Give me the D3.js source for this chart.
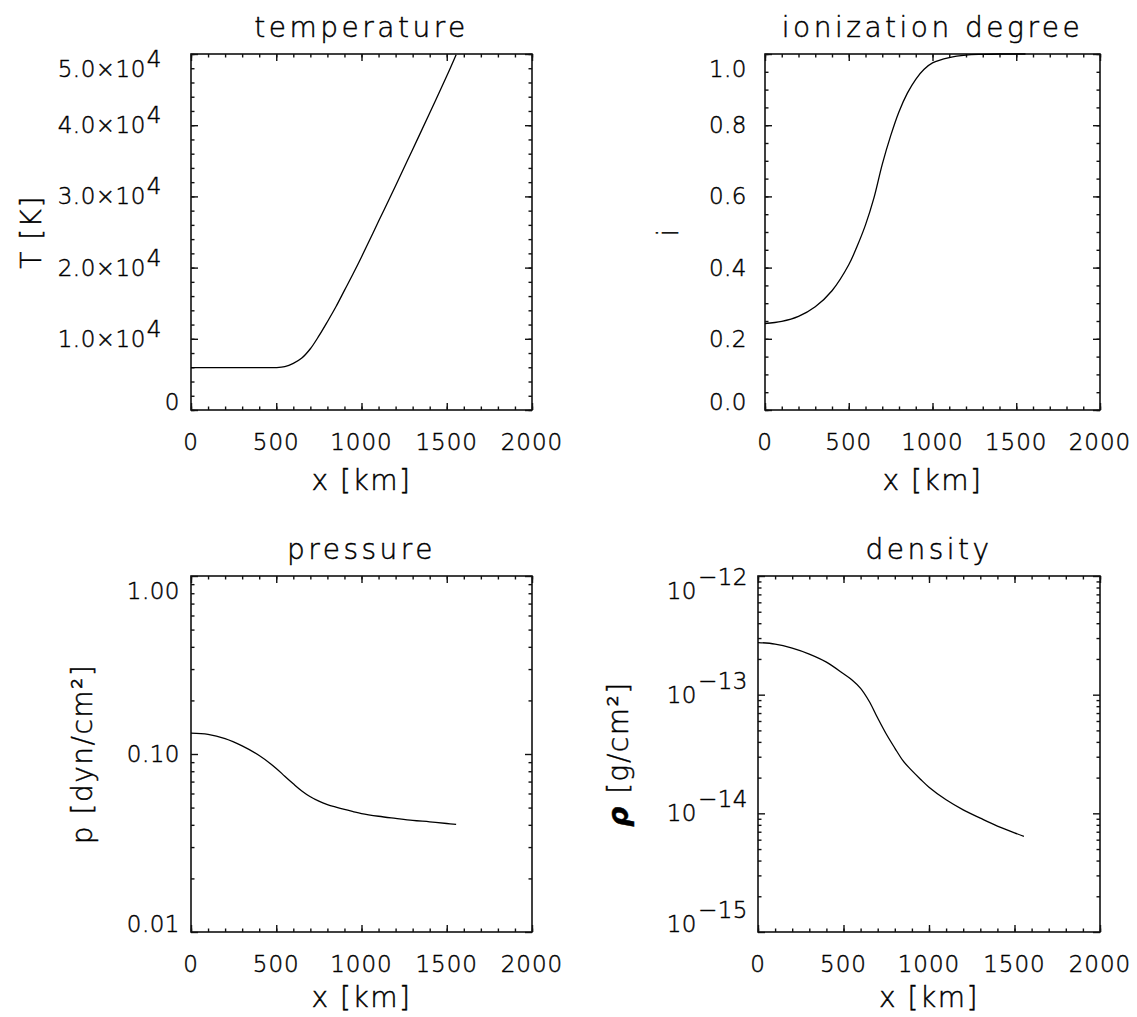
<!DOCTYPE html>
<html>
<head>
<meta charset="utf-8">
<script src="https://cdn.jsdelivr.net/npm/d3@7"></script>
<style>
  body { margin: 0; background: #fff; }
  svg { display: block; font-family: "DejaVu Sans", sans-serif; font-weight: 300; }
  text { fill: #000; stroke: #000; stroke-width: 0.45; }
</style>
</head>
<body>
<svg id="chart" width="1137" height="1017"></svg>
<script>
// Values (x in km)
const xKm = [0, 100, 200, 300, 400, 500, 550, 600, 650, 700, 750, 800, 850, 900, 950,
             1000, 1100, 1200, 1300, 1400, 1500, 1555];
const temperature = [5950, 5950, 5950, 5950, 5950, 5960, 6100, 6550, 7300, 8600, 10400,
                     12400, 14500, 16800, 19100, 21500, 26500, 31500, 36600, 41700, 46900, 49900];
const ionization = [0.243, 0.249, 0.263, 0.29, 0.335, 0.408, 0.46, 0.52, 0.595, 0.69,
                    0.77, 0.838, 0.89, 0.929, 0.957, 0.975, 0.99, 0.997, 0.999, 1.0, 1.0, 1.0];
const pressure = [0.131, 0.129, 0.122, 0.111, 0.098, 0.083, 0.075, 0.068, 0.062, 0.0575,
                  0.0543, 0.052, 0.0503, 0.0488, 0.0475, 0.0463, 0.0447, 0.0435, 0.0424,
                  0.0416, 0.0407, 0.0402];
const density = [2.75e-13, 2.67e-13, 2.47e-13, 2.2e-13, 1.88e-13, 1.5e-13, 1.33e-13,
                 1.13e-13, 8.8e-14, 6.35e-14, 4.66e-14, 3.55e-14, 2.75e-14, 2.29e-14, 1.94e-14,
                 1.66e-14, 1.3e-14, 1.07e-14, 9.1e-15, 7.8e-15, 6.85e-15, 6.4e-15];

const xTickValues = [0, 500, 1000, 1500, 2000];
const xTickLabels = ['0', '500', '1000', '1500', '2000'];
const tempTicks = [0, 1e4, 2e4, 3e4, 4e4, 5e4];
const tempTickLabels = [['0', ''], ['1.0×10', '4'], ['2.0×10', '4'], ['3.0×10', '4'], ['4.0×10', '4'], ['5.0×10', '4']];
const ionTicks = [0, 0.2, 0.4, 0.6, 0.8, 1.0];
const ionTickLabels = [['0.0', ''], ['0.2', ''], ['0.4', ''], ['0.6', ''], ['0.8', ''], ['1.0', '']];
const presTicks = [0.01, 0.1, 1];
const presTickLabels = [['0.01', ''], ['0.10', ''], ['1.00', '']];
const densTicks = [1e-15, 1e-14, 1e-13, 1e-12];
const densTickLabels = [['10', '−15'], ['10', '−14'], ['10', '−13'], ['10', '−12']];

const svg = d3.select('#chart');

function logMinor(domain) {
  const out = [];
  const lo = Math.round(Math.log10(domain[0])), hi = Math.round(Math.log10(domain[1]));
  for (let e = lo; e < hi; e++) for (let m = 2; m <= 9; m++) out.push(m * Math.pow(10, e));
  return out;
}

const panels = [
  {title: 'temperature', yLabel: 'T [K]', values: temperature, type: 'linear',
   domain: [0, 5e4], ticks: tempTicks, labels: tempTickLabels, minor: d3.range(0, 50001, 2000),
   box: {left: 191, top: 54, right: 532, bottom: 410}, labelGap: 11, expGap: 29, supRise: 10, yTitleX: 41, xTitleDy: 80},
  {title: 'ionization  degree', yLabel: 'i', values: ionization, type: 'linear',
   domain: [0, 1], ticks: ionTicks, labels: ionTickLabels, minor: d3.range(0, 1.0001, 0.05),
   box: {left: 765, top: 54, right: 1100, bottom: 410}, labelGap: 18, yTitleX: 678, xTitleDy: 80},
  {title: 'pressure', yLabel: 'p [dyn/cm²]', values: pressure, type: 'log',
   domain: [0.01, 1], ticks: presTicks, labels: presTickLabels, minor: logMinor([0.01, 1]),
   box: {left: 191, top: 576, right: 532, bottom: 932}, labelGap: 11, yTitleX: 92, xTitleDy: 75},
  {title: 'density', yLabel: '[g/cm²]', greek: 'ρ', values: density, type: 'log',
   domain: [1e-15, 1e-12], ticks: densTicks, labels: densTickLabels, minor: logMinor([1e-15, 1e-12]),
   box: {left: 758, top: 576, right: 1100, bottom: 932}, labelGap: 10, expGap: 10, supRise: 14, yTitleX: 628, xTitleDy: 75},
];

const majorLen = 7, minorLen = 3.5;

panels.forEach((p, k) => {
  const b = p.box;
  const x = d3.scaleLinear().domain([0, 2000]).range([b.left, b.right]);
  const y = (p.type === 'log' ? d3.scaleLog() : d3.scaleLinear())
    .domain(p.domain).range([b.bottom, b.top]);
  const g = svg.append('g');

  // inward ticks on all four sides, IDL style
  const axes = [
    [d3.axisBottom(x), `translate(0,${b.bottom})`, xTickValues, d3.range(0, 2001, 100)],
    [d3.axisTop(x), `translate(0,${b.top})`, xTickValues, d3.range(0, 2001, 100)],
    [d3.axisLeft(y), `translate(${b.left},0)`, p.ticks, p.minor],
    [d3.axisRight(y), `translate(${b.right},0)`, p.ticks, p.minor],
  ];
  axes.forEach(([axis, tr, major, minor]) => {
    [[minor, minorLen], [major, majorLen]].forEach(([vals, len]) => {
      g.append('g')
        .attr('transform', tr)
        .call(axis.tickValues(vals).tickSize(-len).tickFormat(''))
        .call(s => s.select('.domain').remove())
        .call(s => s.selectAll('.tick line').attr('stroke', '#111').attr('stroke-width', 1.4));
    });
  });

  g.append('rect')
    .attr('x', b.left).attr('y', b.top)
    .attr('width', b.right - b.left).attr('height', b.bottom - b.top)
    .attr('fill', 'none').attr('stroke', '#111').attr('stroke-width', 1.6);

  // data line
  const clipId = 'clip' + k;
  g.append('clipPath').attr('id', clipId).append('rect')
    .attr('x', b.left).attr('y', b.top - 1)
    .attr('width', b.right - b.left).attr('height', b.bottom - b.top + 2);
  const line = d3.line()
    .x((d, i) => x(xKm[i]))
    .y(d => y(d))
    .curve(d3.curveCatmullRom.alpha(0.5));
  g.append('path')
    .attr('clip-path', `url(#${clipId})`)
    .attr('d', line(p.values))
    .attr('fill', 'none').attr('stroke', '#000').attr('stroke-width', 1.3);

  // x tick labels
  xTickValues.forEach((v, i) => {
    g.append('text')
      .attr('x', x(v)).attr('y', b.bottom + 40)
      .attr('text-anchor', 'middle')
      .attr('font-size', 23).attr('letter-spacing', 1)
      .text(xTickLabels[i]);
  });

  // y tick labels, clamped inside the frame's height
  p.ticks.forEach((v, i) => {
    const [base, sup] = p.labels[i];
    const baseline = Math.max(b.top + 23, Math.min(b.bottom, y(v) + 8));
    const gap = sup ? (p.expGap ?? p.labelGap) : p.labelGap;
    const t = g.append('text')
      .attr('x', b.left - gap).attr('y', baseline)
      .attr('text-anchor', 'end')
      .attr('font-size', 23).attr('letter-spacing', 0.5);
    t.append('tspan').text(base);
    if (sup) t.append('tspan').attr('dy', -p.supRise).attr('dx', 1).text(sup);
  });

  // titles
  g.append('text')
    .attr('x', (b.left + b.right) / 2).attr('y', b.top - 17)
    .attr('text-anchor', 'middle')
    .attr('font-size', 28).attr('letter-spacing', 3.5)
    .text(p.title);

  g.append('text')
    .attr('x', (b.left + b.right) / 2).attr('y', b.bottom + p.xTitleDy)
    .attr('text-anchor', 'middle')
    .attr('font-size', 28).attr('letter-spacing', 1.5)
    .text('x [km]');

  const yt = g.append('text')
    .attr('transform', `translate(${p.yTitleX},${(b.top + b.bottom) / 2}) rotate(-90)`)
    .attr('text-anchor', 'middle')
    .attr('font-size', 28).attr('letter-spacing', 1.5);
  if (p.greek) {
    yt.append('tspan').attr('font-style', 'italic').attr('font-weight', 'bold').text(p.greek + ' ');
  }
  yt.append('tspan').text(p.yLabel);
});
</script>
</body>
</html>
